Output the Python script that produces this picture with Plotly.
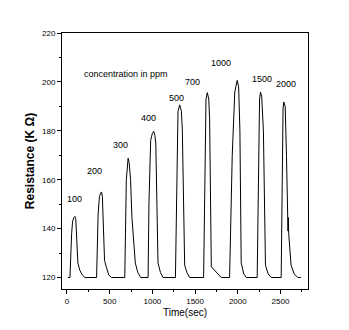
import plotly.graph_objects as go

# time (sec) and resistance (KOhm)
time_sec = [10, 35, 55, 66, 80, 93, 103, 113, 128, 150, 180, 210,
            347, 365, 380, 395, 405, 415, 424, 440, 463, 490, 522,
            677, 695, 705, 716, 728, 745, 760, 800, 830, 864,
            950, 960, 980, 1000, 1016, 1030, 1040, 1066, 1095, 1125,
            1270, 1285, 1300, 1320, 1340, 1351, 1378, 1405, 1437,
            1600, 1615, 1628, 1643, 1660, 1670, 1690, 1807,
            1904, 1935, 1965, 1993, 2010, 2025, 2040, 2070, 2099,
            2227, 2245, 2255, 2266, 2280, 2300, 2324, 2355, 2391,
            2508, 2520, 2530, 2538, 2555, 2570, 2580, 2588, 2592, 2596, 2624, 2660, 2701, 2741]
resistance = [120, 120, 138, 143, 144.5, 145, 144, 138, 126, 123, 121, 120,
              120, 146, 153, 154.5, 155, 153, 140, 127, 124, 121, 120,
              120, 160, 167, 168.8, 167, 160, 145, 126, 122, 120,
              120, 150, 176, 179, 179.8, 178, 175, 126, 122, 120,
              120, 165, 188, 190.6, 188, 180, 125, 122, 120,
              120, 170, 193, 195.6, 193, 185, 124.4, 120,
              120, 170, 196, 200.6, 198, 180, 126, 121.5, 120,
              120, 175, 193, 195.8, 194, 180, 125, 121.5, 120,
              120, 170, 189, 191.8, 190, 170, 146, 139, 144.5, 138, 125, 121.5, 120, 120]

# concentration labels (ppm) and their positions in data units
label_text = ["100", "200", "300", "400", "500", "700", "1000", "1500", "2000"]
label_t = [93, 327, 631, 950, 1281, 1468, 1807, 2286, 2566]
label_r = [152.0, 163.6, 174.1, 185.4, 193.6, 199.9, 207.7, 201.3, 199.0]

note_text = "concentration in ppm"
note_t, note_r = 689, 203.1

x_ticks = [0, 500, 1000, 1500, 2000, 2500]
y_ticks = [120, 140, 160, 180, 200, 220]

fig = go.Figure()
fig.add_trace(go.Scatter(x=time_sec, y=resistance, mode="lines",
                         line=dict(color="black", width=1), showlegend=False))

font = "Arial, Liberation Sans, sans-serif"
for t, x, y in zip(label_text, label_t, label_r):
    fig.add_annotation(x=x, y=y, text=t, showarrow=False,
                       font=dict(family=font, size=9, color="black"))
fig.add_annotation(x=note_t, y=note_r, text=note_text, showarrow=False,
                   font=dict(family=font, size=9, color="black"))

fig.update_layout(
    width=349, height=330,
    margin=dict(l=62, r=41, t=33, b=41),
    paper_bgcolor="white", plot_bgcolor="white",
    font=dict(family=font, color="black"),
)
fig.update_xaxes(range=[-58, 2822], tickvals=x_ticks, ticks="outside", ticklen=4,
                 tickwidth=1, tickcolor="black",
                 minor=dict(dtick=250, tick0=0, ticks="outside", ticklen=2, tickcolor="black"),
                 showline=True, linecolor="black", linewidth=1, mirror=True,
                 showgrid=False, zeroline=False,
                 tickfont=dict(size=8, family=font),
                 title=dict(text="Time(sec)", font=dict(size=10, family=font), standoff=4))
fig.update_yaxes(range=[115.3, 220], tickvals=y_ticks, ticks="outside", ticklen=4,
                 tickwidth=1, tickcolor="black",
                 minor=dict(dtick=10, tick0=120, ticks="outside", ticklen=2, tickcolor="black"),
                 showline=True, linecolor="black", linewidth=1, mirror=True,
                 showgrid=False, zeroline=False,
                 tickfont=dict(size=8, family=font),
                 title=dict(text="<b>Resistance (K Ω)</b>", font=dict(size=12, family=font), standoff=4))

fig.write_html("out.html")
